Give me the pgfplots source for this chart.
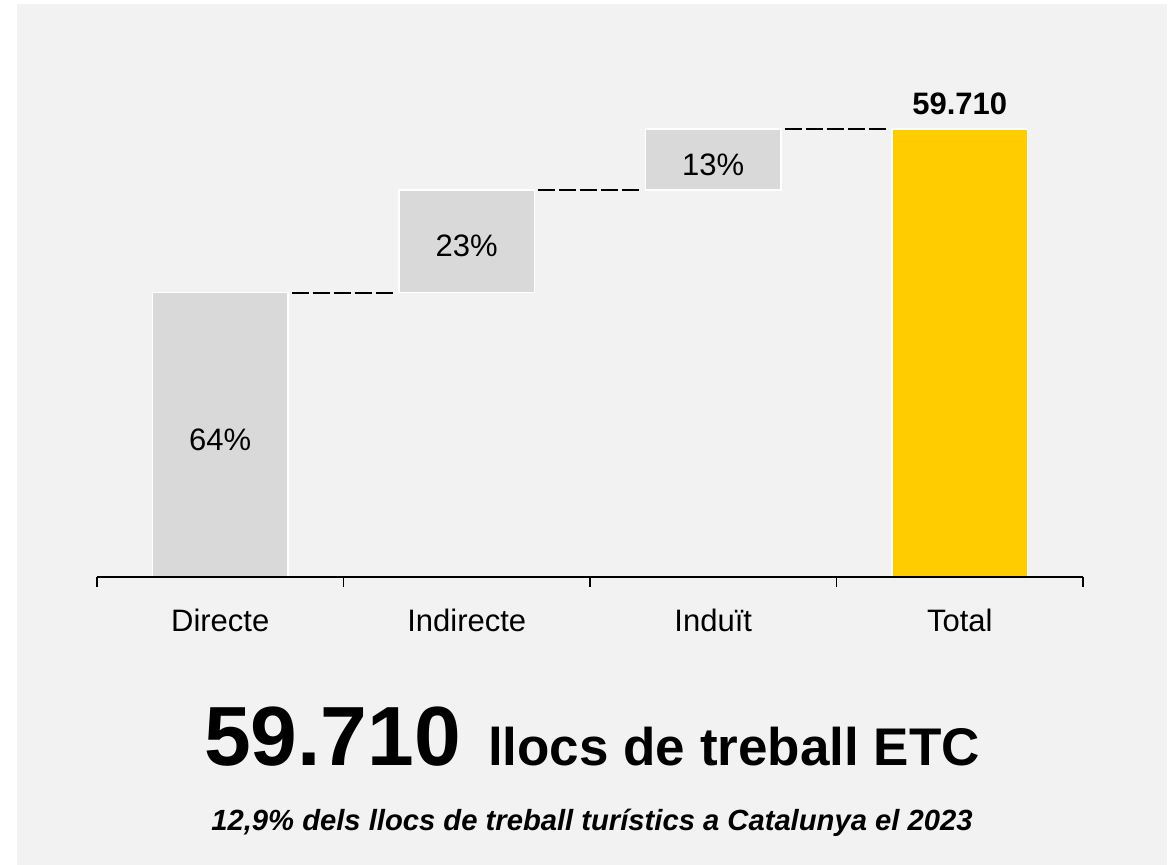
\documentclass[border=0pt]{standalone}
\usepackage{pgfplots}
\pgfplotsset{compat=1.18}
\usepackage{fontspec}
\setmainfont{Liberation Sans}
\definecolor{fons}{HTML}{F2F2F2}
\definecolor{gris}{HTML}{D9D9D9}
\definecolor{groc}{HTML}{FFCC00}

% waterfall: base (invisible), parts, total
\pgfplotstableread{
x base part total
0 0     37900 0
1 37900 13700 0
2 51600 8110  0
3 0     0     59710
}\dades

\pgfplotsset{marc/.style={
  scale only axis, width=493pt, height=224pt,
  xmin=-0.5, xmax=3.5, ymin=0, ymax=59710,
  at={(48.5pt,144pt)}, anchor=south west, clip=false}}

\begin{document}
\begin{tikzpicture}[x=0.5pt,y=0.5pt]
\fill[white] (0,0) rectangle (1173,865);
\fill[fons] (17,0) rectangle (1167,861);

\begin{axis}[marc,
  ybar stacked, bar width=0.55,
  axis on top,
  axis x line*=bottom, axis y line=none,
  axis line style={line width=0.9pt},
  xtick={0,1,2,3},
  xticklabels={Directe,Indirecte,Induït,Total},
  major tick length=0pt,
  minor xtick={-0.5,0.5,1.5,2.5,3.5},
  minor tick length=5pt,
  tick align=outside,
  minor tick style={line width=0.9pt, black},
  xticklabel style={font=\fontsize{15.5}{18}\selectfont, yshift=-12.5pt},
]
\addplot[draw=none, fill=none] table[x=x, y=base] {\dades};
\addplot[fill=gris, draw=white, line width=0.75pt] table[x=x, y=part] {\dades};
\addplot[fill=groc, draw=white, line width=0.75pt] table[x=x, y=total] {\dades};
\end{axis}

\begin{axis}[marc, hide axis]
\addplot[black, line width=1pt, dash pattern=on 8.5pt off 2pt] coordinates {(0.29,37900) (0.715,37900)};
\addplot[black, line width=1pt, dash pattern=on 8.5pt off 2pt] coordinates {(1.29,51600) (1.715,51600)};
\addplot[black, line width=1pt, dash pattern=on 8.5pt off 2pt] coordinates {(2.29,59710) (2.715,59710)};
\addplot[only marks, mark=none, point meta=explicit symbolic,
  nodes near coords, nodes near coords style={anchor=center, yshift=-2.5pt, font=\fontsize{15.5}{18}\selectfont}]
  coordinates {(0,18950)[64\%] (1,44750)[23\%] (2,55655)[13\%]};
\addplot[only marks, mark=none, point meta=explicit symbolic,
  nodes near coords, nodes near coords style={anchor=base, yshift=7pt, font=\fontsize{15.5}{18}\selectfont\bfseries}]
  coordinates {(3,59710)[59.710]};
\end{axis}

\node[anchor=base] at (592,99) {{\fontsize{42}{46}\selectfont\bfseries 59.710}\hspace{13.5pt}{\fontsize{26.5}{30}\selectfont\bfseries llocs de treball ETC}};
\node[anchor=base] at (592,34) {\fontsize{14.6}{17}\selectfont\bfseries\itshape 12,9\% dels llocs de treball turístics a Catalunya el 2023};
\end{tikzpicture}
\end{document}
